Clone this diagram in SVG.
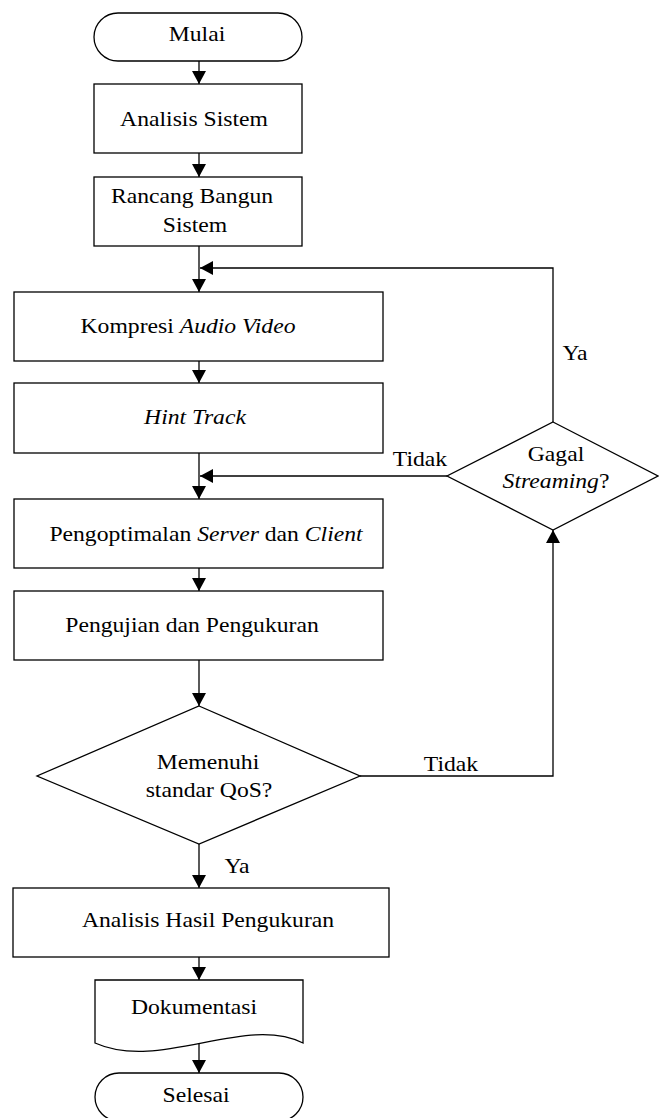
<svg xmlns="http://www.w3.org/2000/svg" width="659" height="1118" viewBox="0 0 659 1118">
<style>
.shape{fill:#fff;stroke:#000;stroke-width:1.3}
.conn{fill:none;stroke:#000;stroke-width:1.3}
text{font-family:"Liberation Serif","Times New Roman",serif;font-size:21.5px;fill:#000;text-anchor:middle}
.it{font-style:italic}
</style>
<defs>
<marker id="arr" markerUnits="userSpaceOnUse" viewBox="0 0 13 14" refX="13" refY="7" markerWidth="13" markerHeight="14" orient="auto">
<path d="M0,0 L13,7 L0,14 Z" fill="#000"/>
</marker>
</defs>
<rect width="659" height="1118" fill="#fff"/>
<g id="connectors">
<line class="conn" x1="199" y1="61" x2="199" y2="84" marker-end="url(#arr)"/>
<line class="conn" x1="199" y1="153" x2="199" y2="177" marker-end="url(#arr)"/>
<line class="conn" x1="199" y1="246" x2="199" y2="292" marker-end="url(#arr)"/>
<polyline class="conn" points="553,422 553,268 200,268" marker-end="url(#arr)"/>
<line class="conn" x1="199" y1="361" x2="199" y2="383" marker-end="url(#arr)"/>
<line class="conn" x1="199" y1="453" x2="199" y2="499" marker-end="url(#arr)"/>
<line class="conn" x1="447" y1="476" x2="200" y2="476" marker-end="url(#arr)"/>
<line class="conn" x1="199" y1="568" x2="199" y2="591" marker-end="url(#arr)"/>
<line class="conn" x1="199" y1="660" x2="199" y2="706" marker-end="url(#arr)"/>
<polyline class="conn" points="360,776 553,776 553,530" marker-end="url(#arr)"/>
<line class="conn" x1="199" y1="844" x2="199" y2="888" marker-end="url(#arr)"/>
<line class="conn" x1="199" y1="957" x2="199" y2="980" marker-end="url(#arr)"/>
<line class="conn" x1="199" y1="1044" x2="199" y2="1073" marker-end="url(#arr)"/>
<text transform="translate(575,360) scale(1.1,1)">Ya</text>
<text transform="translate(420,466) scale(1.1,1)">Tidak</text>
<text transform="translate(451,771) scale(1.1,1)">Tidak</text>
<text transform="translate(237,873) scale(1.1,1)">Ya</text>
</g>
<g id="mulai">
<rect class="shape" x="94" y="13" width="208" height="48" rx="24" ry="24"/>
<text transform="translate(197,41) scale(1.1,1)">Mulai</text>
</g>
<g id="analisis-sistem">
<rect class="shape" x="94" y="84" width="208" height="69"/>
<text transform="translate(194,126) scale(1.1,1)">Analisis Sistem</text>
</g>
<g id="rancang-bangun">
<rect class="shape" x="94" y="177" width="208" height="69"/>
<text transform="translate(192,203) scale(1.1,1)">Rancang Bangun</text>
<text transform="translate(195,232) scale(1.1,1)">Sistem</text>
</g>
<g id="kompresi">
<rect class="shape" x="14" y="292" width="369" height="69"/>
<text transform="translate(188,333) scale(1.1,1)">Kompresi <tspan class="it">Audio Video</tspan></text>
</g>
<g id="hint-track">
<rect class="shape" x="14" y="383" width="369" height="70"/>
<text class="it" transform="translate(195,424) scale(1.1,1)">Hint Track</text>
</g>
<g id="gagal-streaming">
<polygon class="shape" points="553,422 658,476 553,530 447,476"/>
<text transform="translate(556,461) scale(1.1,1)">Gagal</text>
<text transform="translate(556,488) scale(1.1,1)"><tspan class="it">Streaming</tspan>?</text>
</g>
<g id="pengoptimalan">
<rect class="shape" x="14" y="499" width="369" height="69"/>
<text transform="translate(206,541) scale(1.1,1)">Pengoptimalan <tspan class="it">Server</tspan> dan <tspan class="it">Client</tspan></text>
</g>
<g id="pengujian">
<rect class="shape" x="14" y="591" width="369" height="69"/>
<text transform="translate(192,632) scale(1.1,1)">Pengujian dan Pengukuran</text>
</g>
<g id="memenuhi-qos">
<polygon class="shape" points="199,706 360,776 199,844 37,776"/>
<text transform="translate(208,769) scale(1.1,1)">Memenuhi</text>
<text transform="translate(209,797) scale(1.1,1)">standar QoS?</text>
</g>
<g id="analisis-hasil">
<rect class="shape" x="13" y="888" width="376" height="69"/>
<text transform="translate(208,927) scale(1.1,1)">Analisis Hasil Pengukuran</text>
</g>
<g id="dokumentasi">
<path class="shape" d="M95,980 H303 V1043 C245,1014 160,1072 95,1043 Z"/>
<text transform="translate(194,1014) scale(1.1,1)">Dokumentasi</text>
</g>
<g id="selesai">
<rect class="shape" x="95" y="1073" width="208" height="48" rx="24" ry="24"/>
<text transform="translate(196,1102) scale(1.1,1)">Selesai</text>
</g>
</svg>
